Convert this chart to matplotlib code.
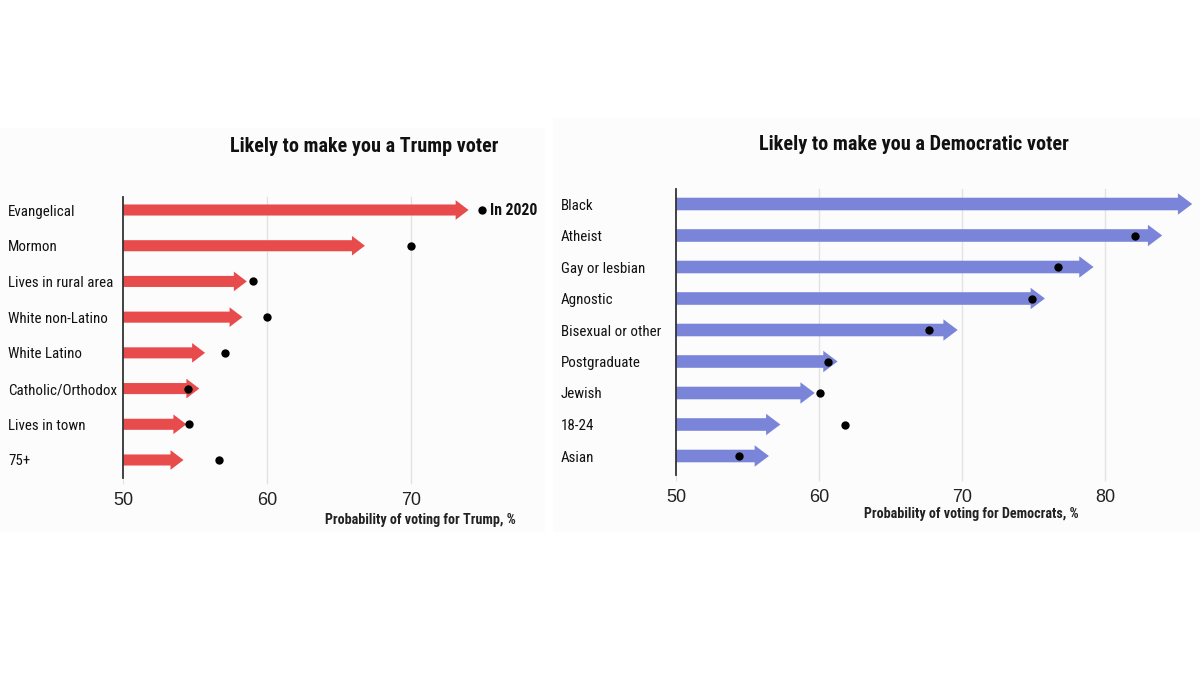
import matplotlib
matplotlib.use("Agg")
import matplotlib.pyplot as plt
from matplotlib.patches import FancyArrow, Rectangle

FAM = ['Roboto Condensed', 'PT Sans Narrow', 'Liberation Sans', 'DejaVu Sans']
plt.rcParams['font.family'] = FAM

# ---- data ----
trump_cats = ["Evangelical", "Mormon", "Lives in rural area", "White non-Latino",
              "White Latino", "Catholic/Orthodox", "Lives in town", "75+"]
trump_now = [74.0, 66.8, 58.6, 58.3, 55.7, 55.3, 54.4, 54.2]
trump_2020 = [74.9, 70.0, 59.0, 60.0, 57.1, 54.5, 54.6, 56.7]

dem_cats = ["Black", "Atheist", "Gay or lesbian", "Agnostic", "Bisexual or other",
            "Postgraduate", "Jewish", "18-24", "Asian"]
dem_now = [86.1, 84.0, 79.2, 75.8, 69.7, 61.3, 59.7, 57.3, 56.5]
dem_2020 = [None, 82.1, 76.7, 74.9, 67.7, 60.6, 60.1, 61.8, 54.4]

trump_ticks = [50, 60, 70]
dem_ticks = [50, 60, 70, 80]

RED = "#e84b4b"
BLUE = "#7a85da"

W, H = 1200, 675
fig = plt.figure(figsize=(12, 6.75), dpi=100)
fig.patch.set_facecolor("white")

fig.add_artist(Rectangle((0, 1 - 532 / H), 545 / W, (532 - 128) / H, transform=fig.transFigure,
                         facecolor="#fcfcfc", edgecolor="none", zorder=0))
fig.add_artist(Rectangle((553 / W, 1 - 532 / H), (1200 - 553) / W, (532 - 118) / H,
                         transform=fig.transFigure, facecolor="#fcfcfc", edgecolor="none", zorder=0))


def panel(rect, cats, now, prev, ticks, xlim, ylim, color, shaft, head, hlen, title, title_xy,
          title_fs, xlabel, xlabel_xy):
    ax = fig.add_axes(rect)
    ax.set_facecolor("none")
    n = len(cats)
    ax.set_xlim(*xlim)
    ax.set_ylim(*ylim)
    for i, (v, p) in enumerate(zip(now, prev)):
        ar = FancyArrow(xlim[0], i, v - xlim[0] - hlen, 0, width=shaft, head_width=head,
                        head_length=hlen, length_includes_head=False, color=color,
                        linewidth=0, zorder=3)
        ax.add_patch(ar)
        if p is not None:
            ax.scatter([p], [i], s=36, color="black", zorder=4, linewidths=0)
    for t in ticks[1:]:
        ax.axvline(t, color="#e3e3e3", lw=1.0, zorder=1, ymin=-0.015, clip_on=False)
    ax.set_xticks(ticks)
    ax.set_xticklabels([str(t) for t in ticks], fontsize=13, color="#222222",
                       family=['Liberation Sans', 'DejaVu Sans'])
    ax.tick_params(axis='x', length=4, color="#e3e3e3", pad=6)
    ax.set_yticks(range(n))
    ax.set_yticklabels(cats, fontsize=10.8, color="#111111", ha="left")
    ax.tick_params(axis='y', length=0, pad=115 * 0.72)
    for s in ["top", "right", "bottom"]:
        ax.spines[s].set_visible(False)
    ax.spines["left"].set_color("#333333")
    ax.spines["left"].set_linewidth(1.3)
    ax.spines["left"].set_zorder(5)
    fig.text(title_xy[0] / W, 1 - title_xy[1] / H, title, ha="center", va="center",
             fontsize=title_fs, fontweight="bold", color="#111111")
    fig.text(xlabel_xy[0] / W, 1 - xlabel_xy[1] / H, xlabel, ha="center", va="center",
             fontsize=10.2, fontweight="bold", color="#222222")
    return ax


lx0, lpx = 123, 14.4
l_xlim = (50, 79)
l_top, l_bot = 197, 478
ax1 = panel([lx0 / W, 1 - l_bot / H, (l_xlim[1] - l_xlim[0]) * lpx / W, (l_bot - l_top) / H],
            trump_cats, trump_now, trump_2020, trump_ticks, l_xlim,
            (7 + (l_bot - 460) / 35.7, -(210 - l_top) / 35.7), RED,
            0.31, 0.55, 0.9, "Likely to make you a Trump voter", (364, 147), 14.5,
            "Probability of voting for Trump, %", (420, 520))
ax1.annotate("In 2020", (trump_2020[0], 0), xytext=(6, 0), textcoords="offset points",
             ha="left", va="center", fontsize=11.3, fontweight="bold", color="#111111")

rx0, rpx = 676, 14.3
r_xlim = (50, 86.5)
r_top, r_bot = 189, 475
sp = (456 - 204) / 8
ax2 = panel([rx0 / W, 1 - r_bot / H, (r_xlim[1] - r_xlim[0]) * rpx / W, (r_bot - r_top) / H],
            dem_cats, dem_now, dem_2020, dem_ticks, r_xlim,
            (8 + (r_bot - 456) / sp, -(204 - r_top) / sp), BLUE,
            0.40, 0.68, 1.0, "Likely to make you a Democratic voter", (914, 144), 14.6,
            "Probability of voting for Democrats, %", (971, 514))

fig.savefig("out.png", dpi=100, facecolor="white")
